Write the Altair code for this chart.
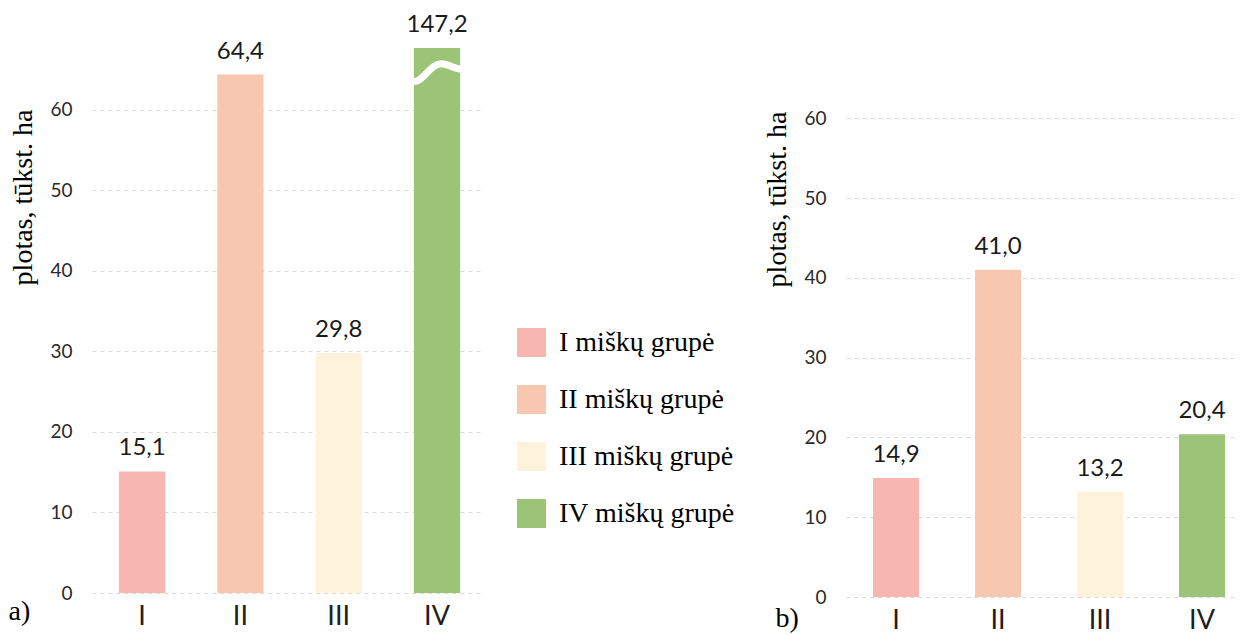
import altair as alt
import pandas as pd

# ---- data ----
groups = ["I", "II", "III", "IV"]
group_names = ["I miškų grupė", "II miškų grupė", "III miškų grupė", "IV miškų grupė"]
values_a = [15.1, 64.4, 29.8, 147.2]
values_b = [14.9, 41.0, 13.2, 20.4]
colors = ["#F7B7B0", "#F8C7AF", "#FEF2DA", "#9CC477"]
y_ticks = [0, 10, 20, 30, 40, 50, 60]
y_max_a = 67.7      # panel a) axis is cut here (IV bar is broken)
y_max_b = 68.8
break_group = ["IV"]
break_value = [64.6]

SANS = "Lato"
SERIF = "Liberation Serif"
WAVE = "M -1 0.3 C -0.6 0.5 -0.3 -0.35 0.15 -0.35 C 0.5 -0.35 0.7 -0.1 1 -0.15"


def frame(values):
    return pd.DataFrame({
        "grupe": groups,
        "pavadinimas": group_names,
        "plotas": values,
        "tekstas": [f"{v:.1f}".replace(".", ",") for v in values],
    })


def panel(values, y_max, title_y, label, label_x, label_y, align, p_in, p_out, width, height, with_break):
    df = frame(values)
    x = alt.X(
        "grupe:N", sort=groups,
        scale=alt.Scale(paddingInner=p_in, paddingOuter=p_out, align=align),
        axis=alt.Axis(
            title=label, titleFont=SERIF, titleFontSize=28, titleFontWeight="normal",
            titleColor="black", titleAngle=0, titleAlign="left", titleBaseline="middle",
            titleX=label_x, titleY=label_y,
            labelAngle=0, labelFont=SANS, labelFontSize=27, labelColor="#1e1e1e",
            labelPadding=10, ticks=False, tickSize=0, domain=False, grid=False,
        ),
    )
    y = alt.Y(
        "plotas:Q",
        scale=alt.Scale(domain=[0, y_max], clamp=True, nice=False, zero=True),
        axis=alt.Axis(
            values=y_ticks, title="plotas, tūkst. ha", titleFont=SERIF, titleFontSize=28,
            titleFontWeight="normal", titleColor="black", titleAngle=270,
            titleAlign="center", titleBaseline="middle", titleX=-69, titleY=title_y,
            labelFont=SANS, labelFontSize=19, labelColor="#2a2a2a", labelPadding=20,
            ticks=False, tickSize=0, domain=False,
            grid=True, gridColor="#d9d9d9", gridDash=[4, 4], gridWidth=1,
        ),
    )
    color = alt.Color(
        "pavadinimas:N",
        scale=alt.Scale(domain=group_names, range=colors),
        legend=alt.Legend(title=None),
    )
    bars = alt.Chart(df).mark_bar().encode(x=x, y=y, color=color)
    text = alt.Chart(df).mark_text(
        dy=-23, font=SANS, fontSize=24, color="#1a1a1a", baseline="middle"
    ).encode(x=x, y=y, text="tekstas:N")
    layers = [bars, text]
    if with_break:
        bdf = pd.DataFrame({"grupe": break_group, "plotas": break_value})
        wave = alt.Chart(bdf).mark_point(
            shape=WAVE, size=2704, filled=False, stroke="white", strokeWidth=7, opacity=1
        ).encode(x=x, y=y)
        layers.append(wave)
    return alt.layer(*layers).properties(width=width, height=height)


left = panel(values_a, y_max_a, 149, "a)", -84, 18, 0.576, 0.53, 0.2385, 388, 545, True)
right = panel(values_b, y_max_b, 151, "b)", -71, 21, 0.75, 0.549, 0.1765, 388, 549, False)

chart = alt.hconcat(
    left, right, spacing=366, bounds="flush",
    padding={"left": 0, "top": 5, "right": 0, "bottom": 0},
).resolve_scale(color="shared").configure_view(strokeWidth=0).configure_legend(
    orient="none", legendX=425, legendY=280, symbolType="square", symbolSize=841,
    symbolStrokeWidth=0, labelFont=SERIF, labelFontSize=28, labelColor="black",
    labelOffset=13, rowPadding=28, padding=0, labelLimit=400,
)

chart.save("out.html", embed_options={"renderer": "svg", "actions": False})
